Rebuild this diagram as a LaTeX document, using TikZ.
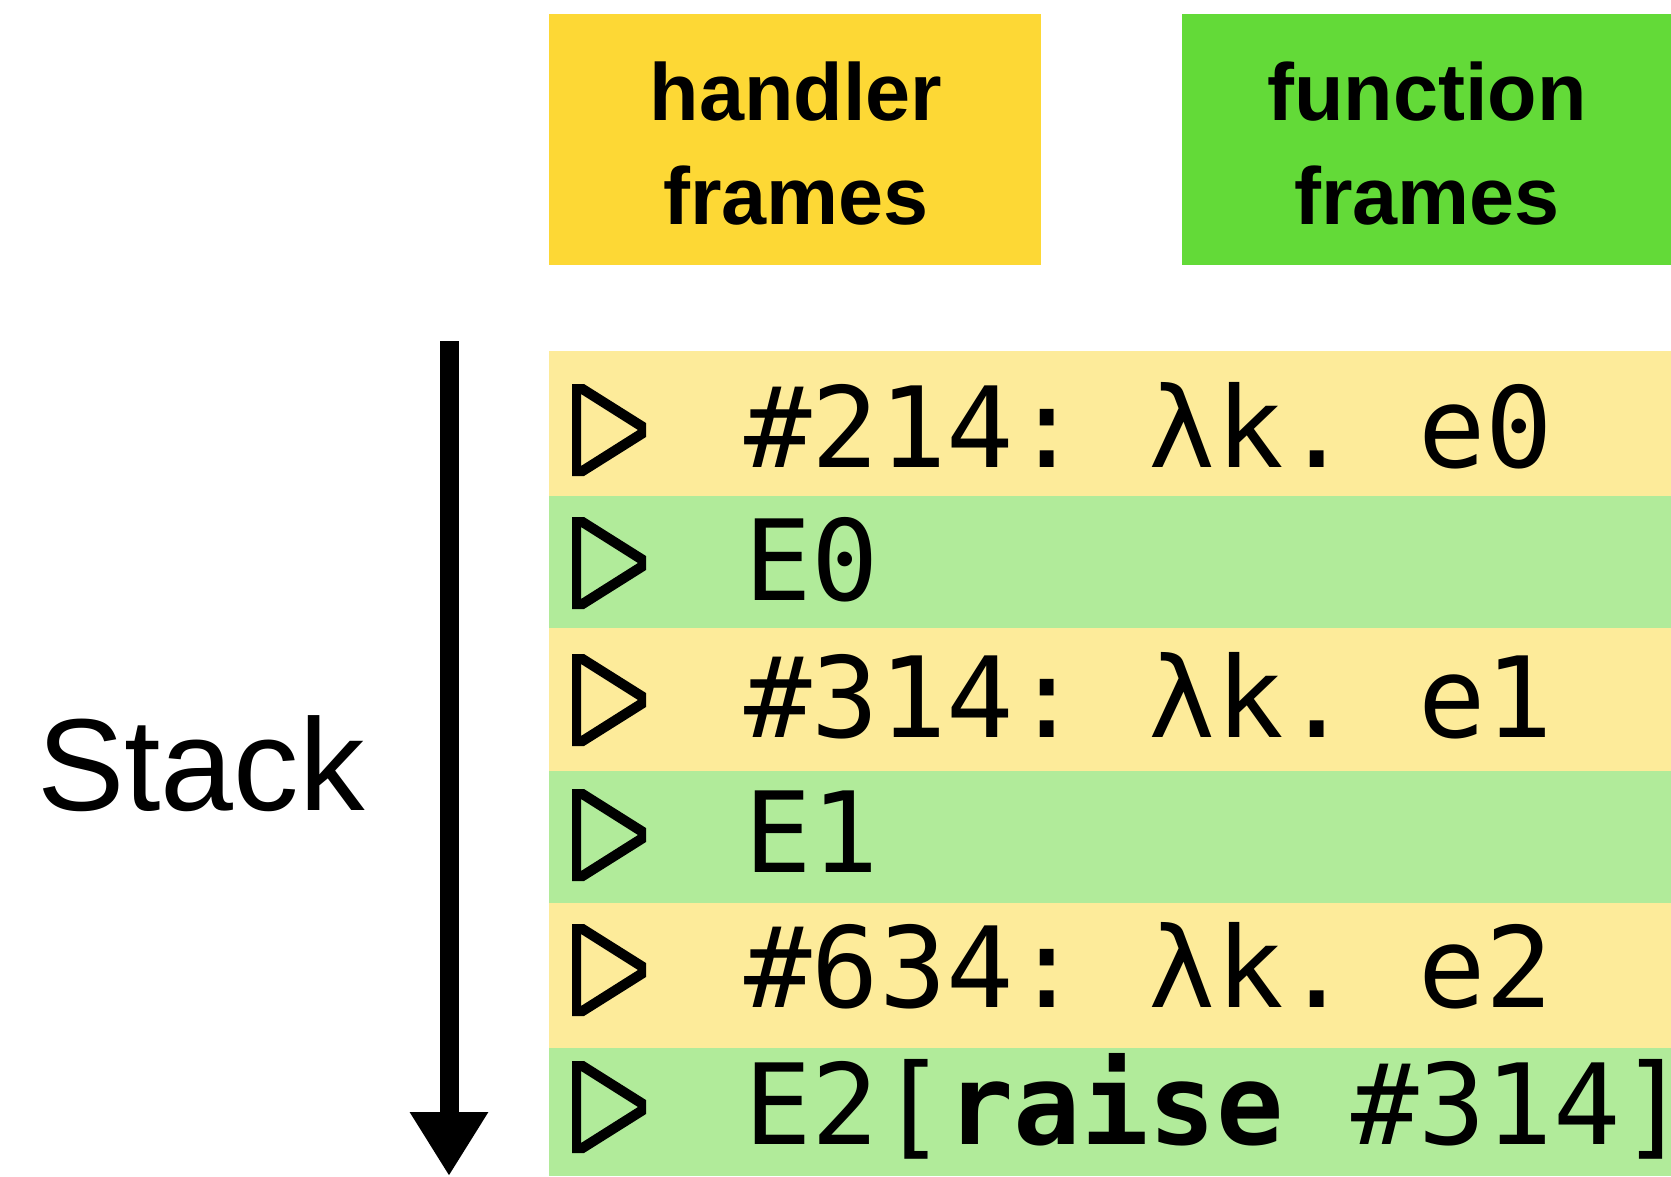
\documentclass[tikz,border=0pt]{standalone}
\usepackage{fontspec}
\setmainfont{Liberation Sans}
\newfontfamily\codefont{DejaVu Sans Mono}
\usetikzlibrary{arrows.meta}

\definecolor{hdrYellow}{RGB}{253,216,53}
\definecolor{hdrGreen}{RGB}{99,218,56}
\definecolor{rowYellow}{RGB}{253,235,154}
\definecolor{rowGreen}{RGB}{177,235,154}

\begin{document}
\frenchspacing
\begin{tikzpicture}[x=1pt,y=-1pt,
  header/.style={anchor=north west, minimum width=492pt, minimum height=251pt,
    inner sep=0pt, outer sep=0pt},
  headtext/.style={anchor=base, inner sep=0pt,
    font=\fontsize{81}{81}\selectfont\bfseries},
  framerow/.style={anchor=north west, minimum width=1122pt, inner sep=0pt,
    outer sep=0pt},
  code/.style={anchor=base west, inner sep=0pt,
    font=\codefont\fontsize{112}{112}\selectfont\frenchspacing},
  playtri/.pic={
    \fill[black, even odd rule]
      (572,-83) -- (584,-83) -- (646,-44) -- (646,-30) -- (584,9) -- (572,9) -- cycle
      (581,-73) -- (638,-37) -- (581,-1) -- cycle;
  },
]
\useasboundingbox (0,0) rectangle (1671,1176);

% legend boxes
\node[header, fill=hdrYellow] (hdrH) at (549,14) {};
\node[header, fill=hdrGreen]  (hdrF) at (1182,14) {};
\node[headtext] (hdrH1) at (796,120) {handler};
\node[headtext] (hdrH2) at (796,224) {frames};
\node[headtext] (hdrF1) at (1427,120) {function};
\node[headtext] (hdrF2) at (1427,224) {frames};

% stack frames
\node[framerow, fill=rowYellow, minimum height=145pt] (r1) at (549,351) {};
\node[framerow, fill=rowGreen,  minimum height=132pt] (r2) at (549,496) {};
\node[framerow, fill=rowYellow, minimum height=143pt] (r3) at (549,628) {};
\node[framerow, fill=rowGreen,  minimum height=132pt] (r4) at (549,771) {};
\node[framerow, fill=rowYellow, minimum height=145pt] (r5) at (549,903) {};
\node[framerow, fill=rowGreen,  minimum height=128pt] (r6) at (549,1048) {};

\pic at (0,467)  {playtri};
\pic at (0,600)  {playtri};
\pic at (0,737)  {playtri};
\pic at (0,872)  {playtri};
\pic at (0,1007) {playtri};
\pic at (0,1144) {playtri};

\node[code] (t1) at (744,467)  {\#214: λk. e0};
\node[code] (t2) at (744,600)  {E0};
\node[code] (t3) at (744,737)  {\#314: λk. e1};
\node[code] (t4) at (744,872)  {E1};
\node[code] (t5) at (744,1007) {\#634: λk. e2};
\node[code] (t6) at (744,1144) {E2[\textbf{raise} \#314]};

% stack direction
\coordinate (stacktop) at (449,341);
\coordinate (stackbot) at (449,1176);
\draw[line width=19pt, -{Triangle[width=74pt,length=64pt]}] (stacktop) -- (stackbot);
\node[anchor=base west, inner sep=0pt, font=\fontsize{131}{131}\selectfont]
  (stacklabel) at (37,810) {Stack};
\end{tikzpicture}
\end{document}
